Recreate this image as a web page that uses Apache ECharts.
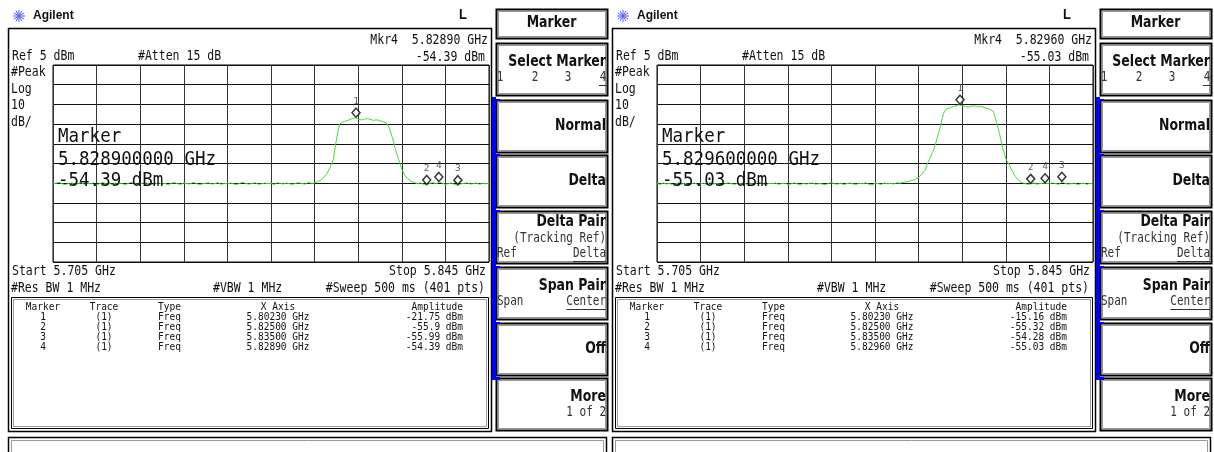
<!DOCTYPE html>
<html>
<head>
<meta charset="utf-8">
<title>Agilent marker readout</title>
<script src="https://cdn.jsdelivr.net/npm/echarts@6/dist/echarts.min.js"></script>
<style>
  html, body { margin: 0; padding: 0; background: #fff; }
  #chart { width: 1214px; height: 452px; }
</style>
</head>
<body>
<div id="chart"></div>
<script>
// sweep settings (same for both captures)
const startGHz = 5.705;
const stopGHz = 5.845;
const stepGHz = 0.001; // trace every 1 MHz
const refLevel = 5;
const bottomLevel = -95;

// trace 1, left capture (dBm)
const traceLeft = [
  -55.4, -55.0, -54.6, -55.3, -55.8, -55.1, -54.9, -55.5, -55.2, -54.7,
  -55.6, -55.0, -55.3, -54.8, -55.9, -55.2, -54.6, -55.4, -55.1, -55.7,
  -54.9, -55.3, -55.0, -55.8, -55.2, -54.5, -55.1, -55.6, -55.3, -54.9,
  -55.4, -55.0, -55.7, -55.2, -54.8, -55.5, -55.1, -55.9, -55.0, -54.7,
  -55.3, -55.6, -54.9, -55.2, -55.4, -54.6, -55.1, -55.8, -55.3, -55.0,
  -54.8, -55.5, -55.2, -54.7, -55.6, -55.1, -55.3, -54.9, -55.4, -55.7,
  -55.0, -54.6, -55.2, -55.5, -55.1, -54.8, -55.6, -55.3, -54.9, -55.2,
  -55.0, -55.7, -54.7, -55.1, -55.4, -54.9, -55.3, -55.6, -55.0, -54.8,
  -55.2, -55.5, -54.6, -55.1, -54.9, -54.2,
  -53.5, -52.0, -50.0, -47.0, -43.0, -33.0, -25.0,
  -24.0, -23.4, -22.9, -22.3, -21.8, -22.4, -22.9, -22.5, -22.2, -22.7,
  -23.1, -22.8, -23.3, -23.8, -24.4,
  -27.0, -32.0, -38.0, -43.0, -48.0, -51.0, -52.8, -54.0, -54.6,
  -55.3, -54.8, -55.6, -55.9, -55.1, -54.7, -55.4, -54.4, -55.0, -55.6,
  -55.2, -54.9, -55.7, -56.0, -55.3, -55.1, -54.8, -55.5, -55.2, -54.9,
  -55.6, -55.0, -55.3, -55.1
];

// trace 1, right capture (dBm)
const traceRight = [
  -55.2, -55.6, -54.9, -55.4, -55.1, -55.8, -55.3, -54.8, -55.5, -55.0,
  -55.7, -55.2, -54.9, -55.6, -55.3, -55.0, -55.8, -54.7, -55.4, -55.1,
  -55.5, -55.9, -55.2, -54.8, -55.3, -55.6, -55.0, -55.4, -54.9, -55.7,
  -55.2, -55.5, -55.0, -54.7, -55.4, -55.8, -55.1, -55.3, -54.9, -55.6,
  -55.2, -55.0, -55.7, -55.4, -54.8, -55.3, -55.9, -55.1, -55.5, -55.0,
  -54.9, -55.6, -55.2, -55.4, -55.8, -55.1, -54.7, -55.3, -55.5, -55.0,
  -55.7, -55.2, -54.9, -55.4, -55.6, -55.1, -55.3, -54.8, -55.5, -55.9,
  -55.0, -55.2, -55.6, -54.9, -55.3, -55.1, -55.4, -54.8, -55.0, -54.6,
  -54.3, -54.0, -53.6,
  -53.0, -52.0, -50.5, -48.5, -44.5, -41.0, -37.5, -32.0, -26.0, -19.5,
  -17.2, -16.8, -16.2, -15.7, -15.2, -15.6, -16.1, -16.4, -15.9, -15.7,
  -16.2, -16.0, -16.5, -17.0, -17.6, -18.5,
  -24.0, -30.0, -37.0, -42.5, -45.5, -48.5, -51.5, -53.5, -54.6,
  -55.1, -55.6, -55.3, -54.9, -55.5, -55.2, -55.0, -55.1, -55.4, -54.8,
  -55.2, -55.6, -54.3, -55.0, -55.5, -55.2, -54.9, -55.7, -55.3, -55.0,
  -55.6, -55.1, -55.4
];

// marker table
const markerNames = ['1', '2', '3', '4'];
const markerFreqLeft = [5.8023, 5.825, 5.835, 5.8289];
const markerAmpLeft = [-21.75, -55.9, -55.99, -54.39];
const markerFreqRight = [5.8023, 5.825, 5.835, 5.8296];
const markerAmpRight = [-15.16, -55.32, -54.28, -55.03];
const tableHeads = ['Marker', 'Trace', 'Type', 'X Axis', 'Amplitude'];

// softkey menu
const menuTitle = 'Marker';
const softkeys = [
  { title: 'Select Marker', row: ['1', '2', '3', '4'] },
  { title: 'Normal' },
  { title: 'Delta' },
  { title: 'Delta Pair', sub: '(Tracking Ref)', left: 'Ref', right: 'Delta' },
  { title: 'Span Pair', left: 'Span', right: 'Center' },
  { title: 'Off' },
  { title: 'More', sub: '1 of 2' }
];

const MONO = '"DejaVu Sans Mono", monospace';
const SMALL = '11.5px ' + MONO;
const BOLD = 'bold 12.5px "DejaVu Sans", sans-serif';
const SHIFT = 604; // second capture sits this far to the right

function t(x, y, s, o = {}) {
  return {
    type: 'text', x, y, scaleY: o.sy || 1.25, z: o.z || 10, silent: true,
    style: {
      text: s, font: o.font || SMALL, fill: o.color || '#111',
      align: o.align || 'left', verticalAlign: 'middle'
    }
  };
}
function box(x, y, w, h, stroke, lw) {
  return { type: 'rect', z: 5, silent: true, shape: { x, y, width: w, height: h },
    style: { fill: 'none', stroke, lineWidth: lw } };
}
function seg(x1, y1, x2, y2, stroke, lw) {
  return { type: 'line', z: 6, silent: true, shape: { x1, y1, x2, y2 }, style: { stroke, lineWidth: lw } };
}
function fillRect(x, y, w, h, color) {
  return { type: 'rect', z: 6, silent: true, shape: { x, y, width: w, height: h }, style: { fill: color } };
}

function panel(dx, mkFreq, mkAmp) {
  const els = [];
  // logo + brand
  for (let k = 0; k < 6; k++) {
    const a = k * Math.PI / 6;
    els.push(seg(dx + 19 - 6 * Math.cos(a), 16 - 6 * Math.sin(a), dx + 19 + 6 * Math.cos(a), 16 + 6 * Math.sin(a), '#5a5aff', 1));
  }
  els.push(t(dx + 33, 16, 'Agilent', { font: 'bold 12px "Liberation Sans", Arial, sans-serif', sy: 1 }));
  els.push(t(dx + 463, 15, 'L', { font: 'bold 13px "Liberation Sans", Arial, sans-serif', sy: 1.1, align: 'center' }));

  // screen frame, table box, bottom strip
  els.push(box(dx + 8.5, 28.5, 483, 403, '#000', 1.5));
  els.push(box(dx + 11.5, 297.5, 477, 131, '#000', 1));
  els.push(box(dx + 13.5, 299.5, 473, 127, '#999', 1));
  els.push(box(dx + 8.5, 437.5, 598, 30, '#000', 1.5));
  els.push(box(dx + 11.5, 440.5, 592, 30, '#999', 1));

  // annotations around graticule
  const m4 = mkFreq[3];
  els.push(t(dx + 488, 40, 'Mkr4  ' + m4.toFixed(5) + ' GHz', { align: 'right' }));
  els.push(t(dx + 485, 57, mkAmp[3] + ' dBm', { align: 'right' }));
  els.push(t(dx + 12, 56, 'Ref ' + refLevel + ' dBm'));
  els.push(t(dx + 138, 56, '#Atten 15 dB'));
  els.push(t(dx + 11, 72, '#Peak'));
  els.push(t(dx + 11, 89, 'Log'));
  els.push(t(dx + 11, 105, '10'));
  els.push(t(dx + 11, 122, 'dB/'));
  els.push(t(dx + 12, 271, 'Start ' + startGHz.toFixed(3) + ' GHz'));
  els.push(t(dx + 486, 271, 'Stop ' + stopGHz.toFixed(3) + ' GHz', { align: 'right' }));
  els.push(t(dx + 11, 288, '#Res BW 1 MHz'));
  els.push(t(dx + 213, 288, '#VBW 1 MHz'));
  els.push(t(dx + 485, 288, '#Sweep 500 ms (401 pts)', { align: 'right' }));

  // big marker readout over the graticule
  const big = { font: '17.5px ' + MONO, sy: 1.08, z: 100 };
  els.push(t(dx + 58, 137, 'Marker', big));
  els.push(t(dx + 58, 160, m4.toFixed(9) + ' GHz', big));
  els.push(t(dx + 58, 181, mkAmp[3] + ' dBm', big));

  // marker table
  const tf = { font: '9.5px ' + MONO, sy: 1.05 };
  const cols = [[43, 'center'], [104, 'center'], [158, 'left'], [278, 'center'], [463, 'right']];
  tableHeads.forEach((h, c) => els.push(t(dx + cols[c][0], 307, h, { ...tf, align: cols[c][1] })));
  markerNames.forEach((n, r) => {
    const y = 317 + r * 10;
    const cells = [n, '(1)', 'Freq', mkFreq[r].toFixed(5) + ' GHz', mkAmp[r] + ' dBm'];
    cells.forEach((s, c) => els.push(t(dx + cols[c][0], y, s, { ...tf, align: cols[c][1] })));
  });

  // softkey column
  const kx = dx + 496, kw = 111, kr = dx + 606;
  els.push(box(kx + 0.5, 9.5, kw, 29, '#000', 2));
  els.push(box(kx + 2.5, 11.5, kw - 4, 25, '#999', 1));
  els.push(t(kx + kw / 2, 23, menuTitle, { font: BOLD, sy: 1.3, align: 'center' }));
  const tops = [43, 100, 155, 211, 267, 323, 378];
  const sub = { font: '11px ' + MONO, color: '#333', sy: 1.2 };
  softkeys.forEach((k, i) => {
    const y0 = tops[i];
    els.push(box(kx + 0.5, y0 + 0.5, kw, 52, '#000', 2));
    els.push(box(kx + 2.5, y0 + 2.5, kw - 4, 48, '#999', 1));
    const n = 1 + (k.sub ? 1 : 0) + (k.left ? 1 : 0) + (k.row ? 1 : 0);
    const ys = n === 3 ? [11, 28, 43] : n === 2 ? [19, 35] : [26];
    let li = 0;
    els.push(t(kr, y0 + ys[li++], k.title, { font: BOLD, sy: 1.3, align: 'right' }));
    if (k.sub) els.push(t(kr, y0 + ys[li++], k.sub, { ...sub, align: 'right' }));
    if (k.left) {
      const y = y0 + ys[li++];
      els.push(t(kx + 1, y, k.left, sub));
      els.push(t(kr, y, k.right, { ...sub, align: 'right' }));
      els.push(seg(kr - k.right.length * 6.6, y + 7.5, kr, y + 7.5, '#333', 1));
    }
    if (k.row) {
      const y = y0 + ys[li++];
      const xs = [500, 535, 568, 603];
      k.row.forEach((s, j) => els.push(t(dx + xs[j], y, s, { ...sub, align: 'center' })));
      els.push(seg(dx + 599, y + 7.5, dx + 607, y + 7.5, '#333', 1));
    }
    if (i >= 1) els.push(fillRect(dx + 492, y0 - 1, 8, 2, '#0000ff'));
  });
  els.push(fillRect(dx + 492, 97, 4, 283, '#0000ff'));
  els.push(fillRect(dx + 492, 378, 8, 2, '#0000ff'));
  return els;
}

function traceData(trace) {
  return trace.map((v, i) => [+(startGHz + i * stepGHz).toFixed(3), v]);
}
function markerData(freqs, amps) {
  return freqs.map((f, i) => ({ name: markerNames[i], value: [f, amps[i]] }));
}

const gridBase = { top: 65, width: 436, height: 197, show: true, borderColor: '#000', borderWidth: 1 };
const lineAxis = (gridIndex, color) => ({
  type: 'value', gridIndex, min: 0, max: 10, interval: 1,
  axisLine: { show: false }, axisTick: { show: false }, axisLabel: { show: false },
  splitLine: { show: true, lineStyle: { color, width: 1 } }
});
const traceSeries = (xi, data) => ({
  type: 'line', xAxisIndex: xi, yAxisIndex: xi, data, showSymbol: false, symbol: 'none',
  lineStyle: { color: '#3fe03a', width: 1 }, z: 3, silent: true
});
const markerSeries = (xi, data) => ({
  type: 'scatter', xAxisIndex: xi, yAxisIndex: xi, data, z: 4, silent: true,
  symbol: 'diamond', symbolSize: [8, 9], symbolOffset: [0, -5],
  itemStyle: { color: '#fff', borderColor: '#000', borderWidth: 1.5 },
  label: { show: true, position: 'top', distance: 1, formatter: '{b}', fontSize: 9.5, fontFamily: MONO, color: '#333' }
});

const chart = echarts.init(document.getElementById('chart'), null, { renderer: 'canvas' });
chart.setOption({
  animation: false,
  backgroundColor: '#fff',
  grid: [{ ...gridBase, left: 53 }, { ...gridBase, left: 53 + SHIFT }],
  xAxis: [
    { type: 'value', gridIndex: 0, min: startGHz, max: stopGHz, show: false },
    lineAxis(0, '#333'),
    { type: 'value', gridIndex: 1, min: startGHz, max: stopGHz, show: false },
    lineAxis(1, '#333')
  ],
  yAxis: [
    { type: 'value', gridIndex: 0, min: bottomLevel, max: refLevel, show: false },
    lineAxis(0, '#111'),
    { type: 'value', gridIndex: 1, min: bottomLevel, max: refLevel, show: false },
    lineAxis(1, '#111')
  ],
  series: [
    traceSeries(0, traceData(traceLeft)),
    markerSeries(0, markerData(markerFreqLeft, markerAmpLeft)),
    traceSeries(2, traceData(traceRight)),
    markerSeries(2, markerData(markerFreqRight, markerAmpRight))
  ],
  graphic: [
    ...panel(0, markerFreqLeft, markerAmpLeft),
    ...panel(SHIFT, markerFreqRight, markerAmpRight)
  ]
});
</script>
</body>
</html>
